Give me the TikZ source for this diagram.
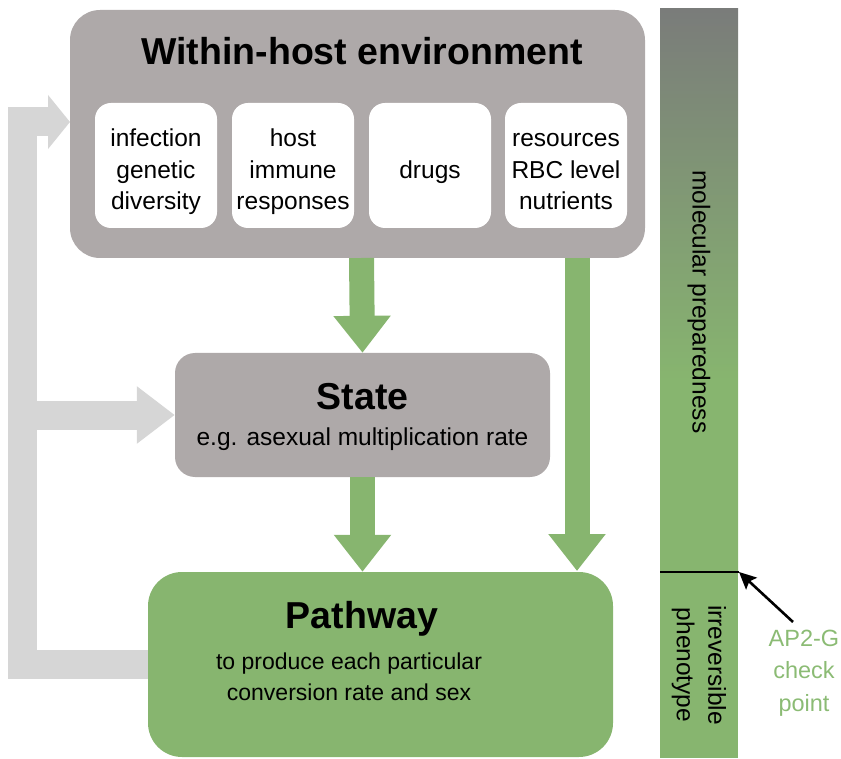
\documentclass[tikz,border=0pt]{standalone}
\usepackage{fontspec}
\setmainfont{Liberation Sans}
\usetikzlibrary{arrows.meta}
\definecolor{boxgrey}{HTML}{AEA9A9}
\definecolor{pgreen}{HTML}{87B56F}
\definecolor{lgrey}{HTML}{D6D6D6}
\definecolor{bargrey}{HTML}{7A7C7A}
\definecolor{txtgreen}{HTML}{8BBB74}
\pgfdeclareverticalshading{bargrad}{100bp}{color(0bp)=(pgreen); color(25bp)=(pgreen); color(42bp)=(pgreen); color(75bp)=(bargrey); color(100bp)=(bargrey)}
\tikzset{
  greybox/.style={fill=boxgrey, draw=none, rounded corners=30pt, inner sep=0pt},
  whitebox/.style={fill=white, draw=none, rounded corners=16pt, inner sep=0pt, minimum width=122pt, minimum height=125pt},
  greenbox/.style={fill=pgreen, draw=none, rounded corners=34pt, inner sep=0pt},
  titletxt/.style={font=\fontsize{37.5}{44}\selectfont\bfseries, inner sep=0pt},
  bodytxt/.style={font=\fontsize{24.5}{31.5}\selectfont, inner sep=0pt, align=center},
  greenarrow/.style={draw=pgreen, line width=25pt, -{Triangle[width=55pt,length=37pt]}},
  greyline/.style={draw=lgrey, line width=29pt, line join=miter},
}
\begin{document}
\begin{tikzpicture}[x=1pt,y=-1pt]
\useasboundingbox (0,0) rectangle (841,759);
% boxes
\node[greenbox, minimum width=465pt, minimum height=185pt] (path) at (380.5,664.5) {};
\node[greybox, minimum width=575pt, minimum height=248pt] (env) at (357.5,134) {};
\node[greybox, rounded corners=20pt, minimum width=375pt, minimum height=124pt] (state) at (362.5,415) {};
% feedback grey connectors
\coordinate (envin) at (70,122);
\coordinate (fbtop) at (22.5,122);
\coordinate (fbbot) at (22.5,664.5);
\coordinate (fbmid) at (22.5,415);
\draw[greyline, -{Triangle[width=53pt,length=22pt]}] (path.west) -- (fbbot) -- (fbtop) -- (envin);
\draw[greyline, -{Triangle[width=55pt,length=38pt]}] (fbmid) -- (state.west);
% inner white boxes
\node[whitebox] (b1) at (156,165.5) {};
\node[whitebox] (b2) at (293,165.5) {};
\node[whitebox] (b3) at (430,165.5) {};
\node[whitebox] (b4) at (566,165.5) {};
\node[bodytxt] (l1) at (156,172) {infection\\genetic\\diversity};
\node[bodytxt] (l2) at (293,172) {host\\immune\\responses};
\node[bodytxt] (l3) at (430,172) {drugs};
\node[bodytxt] (l4) at (566,172) {resources\\RBC level\\nutrients};
% titles
\node[titletxt, anchor=base] (t1) at (362,65) {Within-host environment};
\node[titletxt, anchor=base] (t2) at (362.5,409) {State};
\node[bodytxt, anchor=base] (s2) at (362.5,445) {e.g. asexual multiplication rate};
\node[titletxt, anchor=base] (t3) at (362,628) {Pathway};
\node[bodytxt, anchor=base, font=\fontsize{23}{30}\selectfont] (s3a) at (349,669) {to produce each particular};
\node[bodytxt, anchor=base, font=\fontsize{23}{30}\selectfont] (s3b) at (349,700) {conversion rate and sex};
% green arrows
\coordinate (a3s) at (577,258);
\coordinate (a3e) at (577,571);
\draw[greenarrow] (361.5,258) -- (state.north);
\draw[greenarrow] (state.south) -- (path.north -| state.south);
\draw[greenarrow] (a3s) -- (a3e);
% right bar
\shade[shading=bargrad] (660,9) rectangle (738,572);
\fill[pgreen] (660,572) rectangle (738,758);
\coordinate (cpl) at (660,572);
\coordinate (cp) at (739,572);
\draw[black, line width=1.6pt] (cpl) -- (cp);
\node[bodytxt, rotate=-90] (mp) at (699,302) {molecular preparedness};
\node[bodytxt, rotate=-90] (ip) at (699,665) {irreversible\\phenotype};
\node[bodytxt, text=txtgreen, font=\fontsize{23.5}{32.5}\selectfont] (ap) at (804,673) {AP2-G\\check\\point};
\coordinate (aptail) at (793,622);
\draw[black, line width=2.6pt, -{Stealth[length=17pt,width=16pt,inset=3pt]}] (aptail) -- (cp);
\end{tikzpicture}
\end{document}
